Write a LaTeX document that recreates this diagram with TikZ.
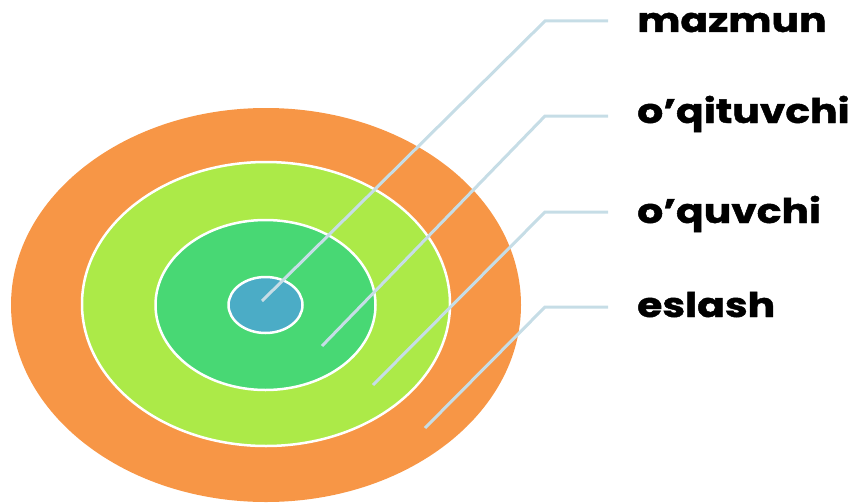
\documentclass[tikz,border=0pt]{standalone}
\usepackage{fontspec}
\setmainfont{Poppins}
\newfontfamily\lblfont{Poppins}[BoldFeatures={FakeBold=1.2}]
\definecolor{ringA}{RGB}{247,150,70}
\definecolor{ringB}{RGB}{172,234,72}
\definecolor{ringC}{RGB}{72,216,116}
\definecolor{ringD}{RGB}{75,172,198}
\definecolor{leader}{RGB}{198,221,230}
\begin{document}
\begin{tikzpicture}[x=1pt,y=-1pt,
  ring/.style={draw=white,line width=2.5pt},
  lead/.style={draw=leader,line width=3pt},
  lbl/.style={anchor=base west,inner sep=0pt,xscale=1.2,font=\lblfont\fontsize{34}{34}\selectfont\bfseries}]
\useasboundingbox (0,0) rectangle (861,503);
\fill[ringA] (266,305) ellipse [x radius=255, y radius=197];
\path[ring,fill=ringB] (266,304) ellipse [x radius=184, y radius=142];
\path[ring,fill=ringC] (265.5,305) ellipse [x radius=110, y radius=85];
\path[ring,fill=ringD] (265.5,305) ellipse [x radius=37, y radius=28];
\coordinate (e1) at (262,301);
\coordinate (e2) at (322,346);
\coordinate (e3) at (373,385);
\coordinate (e4) at (425,428);
\coordinate (k1) at (545,21);
\coordinate (k2) at (545,116);
\coordinate (k3) at (545,212);
\coordinate (k4) at (545,307);
\coordinate (f1) at (608,21);
\coordinate (f2) at (608,116);
\coordinate (f3) at (608,212);
\coordinate (f4) at (608,307);
\draw[lead] (e1) -- (k1) -- (f1);
\draw[lead] (e2) -- (k2) -- (f2);
\draw[lead] (e3) -- (k3) -- (f3);
\draw[lead] (e4) -- (k4) -- (f4);
\node[lbl] (t1) at (637,32) {mazmun};
\node[lbl] (t2) at (637,123) {o’qituvchi};
\node[lbl] (t3) at (637,223) {o’quvchi};
\node[lbl] (t4) at (637,317) {eslash};
\end{tikzpicture}
\end{document}
